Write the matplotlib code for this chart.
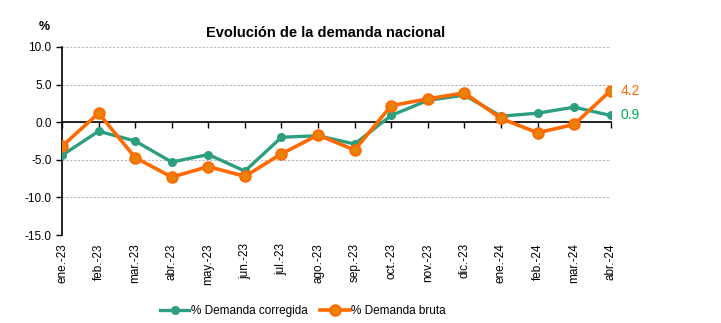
import matplotlib
matplotlib.use("Agg")
import matplotlib.pyplot as plt

plt.rcParams['font.family'] = ['Liberation Sans', 'DejaVu Sans']

meses = ['ene.-23', 'feb.-23', 'mar.-23', 'abr.-23', 'may.-23', 'jun.-23',
         'jul.-23', 'ago.-23', 'sep.-23', 'oct.-23', 'nov.-23', 'dic.-23',
         'ene.-24', 'feb.-24', 'mar.-24', 'abr.-24']
corregida = [-4.4, -1.2, -2.5, -5.3, -4.3, -6.5, -2.0, -1.8, -2.9, 0.9, 2.9, 3.6,
             0.8, 1.2, 2.0, 0.9]
bruta = [-3.2, 1.2, -4.7, -7.3, -5.9, -7.2, -4.2, -1.7, -3.7, 2.2, 3.1, 3.9,
         0.5, -1.4, -0.3, 4.2]

verde = '#2E9E80'
naranja = '#FF6A00'

fig = plt.figure(figsize=(7.21, 3.23), dpi=100)
ax = fig.add_axes([0.086, 0.2724, 0.761, 0.5821])

x = list(range(len(meses)))
ax.plot(x, corregida, color=verde, lw=2.4, marker='o', ms=5.5,
        mfc=verde, mec=verde, label='% Demanda corregida', zorder=3)
ax.plot(x, bruta, color=naranja, lw=2.6, marker='o', ms=7.5,
        mfc='#E8820A', mec=naranja, mew=1.5, label='% Demanda bruta', zorder=4)

ax.set_xlim(0, len(meses) - 1)
ax.set_ylim(-15, 10)
ax.set_yticks([-15, -10, -5, 0, 5, 10])
ax.set_yticklabels([f'{v:.1f}' for v in [-15, -10, -5, 0, 5, 10]], fontsize=8.5)
ax.yaxis.grid(True, color='#b8b8b8', ls=(0, (2, 1.5)), lw=0.8)
ax.set_axisbelow(True)

for s in ['top', 'right']:
    ax.spines[s].set_visible(False)
ax.spines['left'].set_linewidth(1.2)
ax.spines['bottom'].set_position(('data', 0))
ax.spines['bottom'].set_linewidth(1.2)
ax.set_xticks(x)
ax.tick_params(axis='x', direction='out', length=4, width=1, labelbottom=False)
ax.tick_params(axis='y', direction='out', length=4, width=1)

sec = ax.secondary_xaxis('bottom')
sec.set_xticks(x)
sec.set_xticklabels(meses, rotation=90, fontsize=8.5, va='top', ha='center')
sec.tick_params(length=0, pad=6)
sec.spines['bottom'].set_visible(False)

# etiquetas del ultimo valor
ax.annotate(f'{bruta[-1]:.1f}', (x[-1], bruta[-1]), xytext=(7, 0),
            textcoords='offset points', color='#FF6600', fontsize=10,
            va='center', annotation_clip=False)
ax.annotate(f'{corregida[-1]:.1f}', (x[-1], corregida[-1]), xytext=(7, 0),
            textcoords='offset points', color='#00B050', fontsize=10,
            va='center', annotation_clip=False)

fig.text(0.451, 0.897, 'Evolución de la demanda nacional', ha='center',
         va='center', fontsize=10.5, fontweight='bold')
fig.text(0.061, 0.915, '%', ha='center', va='center', fontsize=9,
         fontweight='bold')

fig.legend(loc='center', bbox_to_anchor=(0.42, 0.037), ncol=2, frameon=False,
           fontsize=8.5, handlelength=2.5, columnspacing=1.1, handletextpad=0.1)

fig.savefig('out.png', dpi=100)
